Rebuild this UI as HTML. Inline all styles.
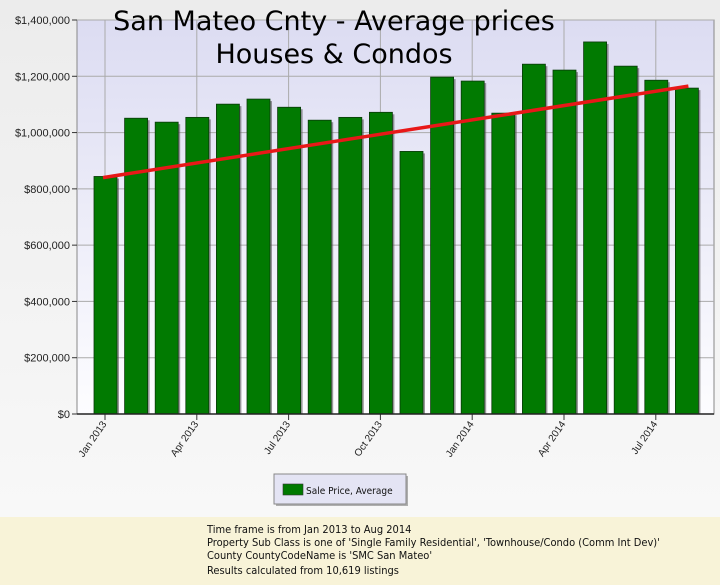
<!DOCTYPE html>
<html><head><meta charset="utf-8"><style>
body{margin:0;width:720px;height:585px;overflow:hidden;background:#f3f3f3;font-family:"Liberation Sans",sans-serif}
#foot{position:absolute;left:0;top:517px;width:720px;height:68px;background:#f8f3d8}
#foot div{position:absolute;left:207px;font-family:"DejaVu Sans Condensed","DejaVu Sans",sans-serif;font-size:11px;color:#111}
</style></head><body>
<svg id="chart" width="720" height="517" style="position:absolute;left:0;top:0">
<defs>
<linearGradient id="bg" x1="0" y1="0" x2="0" y2="1"><stop offset="0" stop-color="#dcdcf2"/><stop offset="1" stop-color="#fdfdff"/></linearGradient>
<linearGradient id="pg" x1="0" y1="0" x2="0" y2="1"><stop offset="0" stop-color="#ececec"/><stop offset="1" stop-color="#f8f8f8"/></linearGradient>
</defs>
<rect width="720" height="517" fill="url(#pg)"/>
<rect x="77" y="20" width="637" height="394" fill="url(#bg)" stroke="#888" stroke-width="1"/>
<g id="grid"></g><g id="bars"></g><g id="axes"></g>
<g font-family="'DejaVu Sans',sans-serif" font-size="27" fill="#000" text-anchor="middle">
<text x="334" y="30">San Mateo Cnty - Average prices</text>
<text x="334" y="63">Houses &amp; Condos</text>
</g>
<g>
<rect x="274" y="474" width="132" height="30" fill="#666" opacity="0.5" transform="translate(2,2)"/>
<rect x="274" y="474" width="132" height="30" fill="#e4e4f4" stroke="#888"/>
<rect x="283" y="484" width="20" height="11" fill="#007a00" stroke="#333" stroke-width="0.6"/>
<text x="306" y="494" font-size="10" fill="#111" font-family="'DejaVu Sans Condensed','DejaVu Sans',sans-serif">Sale Price, Average</text>
</g>
</svg>
<div id="foot">
<div style="top:6px">Time frame is from Jan 2013 to Aug 2014</div>
<div style="top:19px">Property Sub Class is one of 'Single Family Residential', 'Townhouse/Condo (Comm Int Dev)'</div>
<div style="top:32px">County CountyCodeName is 'SMC San Mateo'</div>
<div style="top:47px">Results calculated from 10,619 listings</div>
</div>
<script>
const months=["Jan 2013","Feb 2013","Mar 2013","Apr 2013","May 2013","Jun 2013","Jul 2013","Aug 2013","Sep 2013","Oct 2013","Nov 2013","Dec 2013","Jan 2014","Feb 2014","Mar 2014","Apr 2014","May 2014","Jun 2014","Jul 2014","Aug 2014"];
const prices=[844000,1051000,1037000,1054000,1101000,1119000,1090000,1044000,1054000,1072000,933000,1197000,1183000,1069000,1243000,1222000,1322000,1236000,1186000,1158000];
const trendStart=840000, trendEnd=1165000;
const yTicks=[0,200000,400000,600000,800000,1000000,1200000,1400000];
const yTickLabels=["$0","$200,000","$400,000","$600,000","$800,000","$1,000,000","$1,200,000","$1,400,000"];
const xTickIdx=[0,3,6,9,12,15,18];
const xTickLabels=["Jan 2013","Apr 2013","Jul 2013","Oct 2013","Jan 2014","Apr 2014","Jul 2014"];
const NS="http://www.w3.org/2000/svg";
const x=i=>105+i*30.6;
const y=v=>414-v/1400000*394;
function mk(t,a,p){const e=document.createElementNS(NS,t);for(const k in a)e.setAttribute(k,a[k]);p.appendChild(e);return e;}
const grid=document.getElementById('grid'),bars=document.getElementById('bars'),axes=document.getElementById('axes');
yTicks.forEach((v,i)=>{
  if(v>0){const g=mk('line',{x1:77,x2:714,y1:y(v),y2:y(v),stroke:'#aaa','stroke-width':1},grid);
  
  }
  mk('line',{x1:72,x2:77,y1:y(v),y2:y(v),stroke:'#333'},axes);
  const t=mk('text',{x:70,y:y(v)+4,'text-anchor':'end','font-size':11,fill:'#222'},axes);
  t.textContent=yTickLabels[i];
  
  
});
xTickIdx.forEach((idx,i)=>{
  const g=mk('line',{x1:x(idx),x2:x(idx),y1:20,y2:414,stroke:'#aaa'},grid);
  
  
  mk('line',{x1:x(idx),x2:x(idx),y1:414,y2:420,stroke:'#333'},axes);
  const t=mk('text',{x:x(idx)+2,y:424,'text-anchor':'end','font-size':10,fill:'#222',transform:`rotate(-55 ${x(idx)+2} 424)`},axes);
  t.textContent=xTickLabels[i];
  
  
});
prices.forEach((v,i)=>{
  mk('rect',{x:x(i)-11+2,y:y(v)+2,width:23,height:414-y(v)-2,fill:'#555',opacity:0.6},bars);
  const r=mk('rect',{x:x(i)-11,y:y(v),width:23,height:414-y(v),fill:'#017a01',stroke:'#0a3a0a','stroke-width':0.8},bars);
  
  
});
const tl=mk('line',{x1:x(0)-2,y1:y(trendStart),x2:x(19)+2,y2:y(trendEnd),stroke:'#e81818','stroke-width':3.5},bars);


mk('line',{x1:77,x2:714,y1:414,y2:414,stroke:'#222','stroke-width':1.5},axes);
</script>
</body></html>
